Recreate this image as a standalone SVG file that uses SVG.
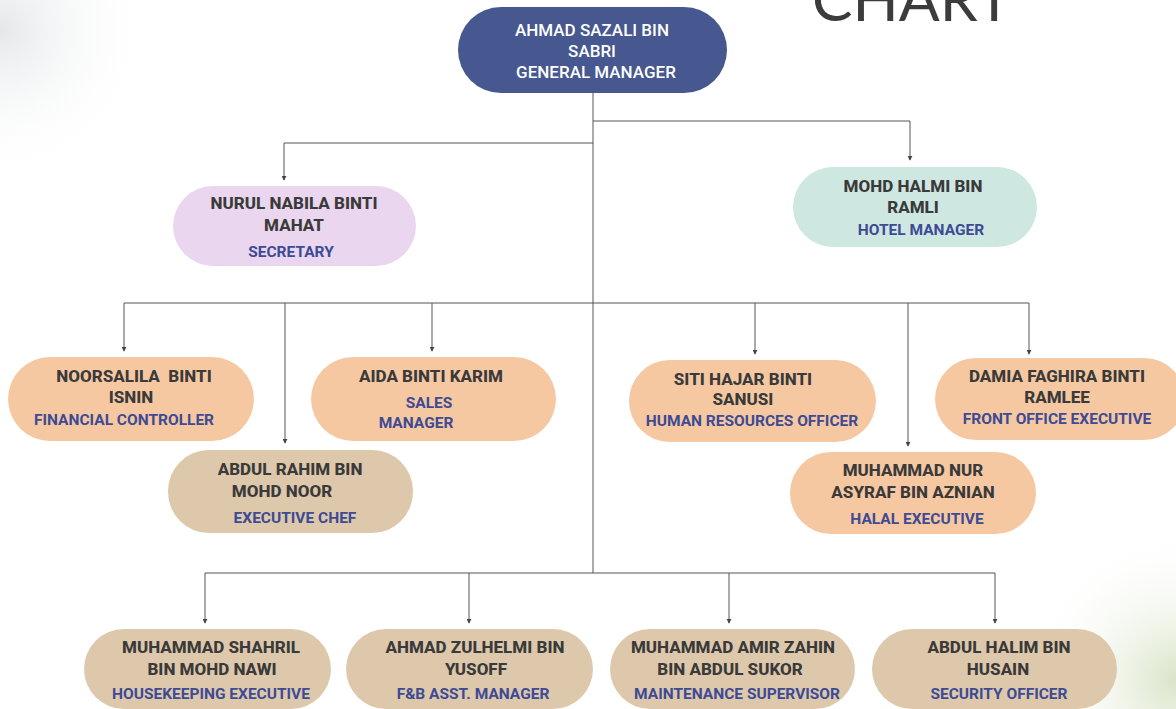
<svg xmlns="http://www.w3.org/2000/svg" width="1176" height="709" viewBox="0 0 1176 709">
<defs>
<radialGradient id="gTL" cx="0" cy="0.1" r="0.5"><stop offset="0" stop-color="#d9dde0" stop-opacity="0.7"/><stop offset="1" stop-color="#ffffff" stop-opacity="0"/></radialGradient>
<radialGradient id="gBR" cx="1" cy="0.9" r="0.5"><stop offset="0" stop-color="#c9d8b0" stop-opacity="0.7"/><stop offset="1" stop-color="#ffffff" stop-opacity="0"/></radialGradient>
<marker id="arr" viewBox="0 0 6 6" refX="5" refY="3" markerWidth="5" markerHeight="5" orient="auto" markerUnits="userSpaceOnUse"><path d="M0,0 L6,3 L0,6 z" fill="#444"/></marker>
<style>
.nm{font-family:Roboto,"Liberation Sans",sans-serif;font-weight:800;font-size:17px;fill:#3a3a3a;text-anchor:middle;white-space:pre}
.rl{font-family:Roboto,"Liberation Sans",sans-serif;font-weight:700;font-size:15.5px;fill:#3d4a94;text-anchor:middle}
.gm{font-family:Roboto,"Liberation Sans",sans-serif;font-weight:500;font-size:17px;fill:#ffffff;text-anchor:middle}
.peach{fill:#f6c8a2}
.tan{fill:#dec8ab}
.ln{fill:none;stroke:#555;stroke-width:1}
.ar{fill:none;stroke:#555;stroke-width:1;marker-end:url(#arr)}
</style>
</defs>
<rect width="1176" height="709" fill="#ffffff"/>
<rect x="0" y="0" width="300" height="300" fill="url(#gTL)"/>
<rect x="876" y="409" width="300" height="300" fill="url(#gBR)"/>
<text x="812" y="21" font-family="Lato,'Open Sans',sans-serif" font-size="60" fill="#3c3c3c" textLength="200" lengthAdjust="spacingAndGlyphs">CHART</text>

<g id="connectors">
<path class="ln" d="M593,93 V573"/>
<path class="ar" d="M593,121 H910 V160"/>
<path class="ar" d="M593,143 H284 V180"/>
<path class="ln" d="M124,303 H1029"/>
<path class="ar" d="M124,303 V351"/>
<path class="ar" d="M285,303 V443"/>
<path class="ar" d="M432,303 V351"/>
<path class="ar" d="M755,303 V354"/>
<path class="ar" d="M908,303 V446"/>
<path class="ar" d="M1029,303 V354"/>
<path class="ln" d="M205,573 H995"/>
<path class="ar" d="M205,573 V623"/>
<path class="ar" d="M469,573 V623"/>
<path class="ar" d="M729,573 V623"/>
<path class="ar" d="M995,573 V623"/>
</g>

<g id="gm">
<rect x="458" y="7" width="269" height="86" rx="43" fill="#46588f"/>
<text class="gm" x="592" y="36">AHMAD SAZALI BIN</text>
<text class="gm" x="592" y="57">SABRI</text>
<text class="gm" x="596" y="78">GENERAL MANAGER</text>
</g>

<g id="secretary">
<rect x="173" y="186" width="243" height="80" rx="40" fill="#ead6ee"/>
<text class="nm" x="294" y="209">NURUL NABILA BINTI</text>
<text class="nm" x="294" y="231">MAHAT</text>
<text class="rl" x="291" y="257">SECRETARY</text>
</g>

<g id="hotel-manager">
<rect x="793" y="167" width="244" height="80" rx="40" fill="#cfe7e1"/>
<text class="nm" x="913" y="192">MOHD HALMI BIN</text>
<text class="nm" x="913" y="213">RAMLI</text>
<text class="rl" x="921" y="235">HOTEL MANAGER</text>
</g>

<g id="financial-controller">
<rect class="peach" x="8" y="357" width="246" height="84" rx="42"/>
<text class="nm" x="134" y="382" xml:space="preserve">NOORSALILA  BINTI</text>
<text class="nm" x="131" y="403">ISNIN</text>
<text class="rl" x="124" y="425">FINANCIAL CONTROLLER</text>
</g>

<g id="sales-manager">
<rect class="peach" x="311" y="357" width="245" height="84" rx="42"/>
<text class="nm" x="431" y="382">AIDA BINTI KARIM</text>
<text class="rl" x="429" y="408">SALES</text>
<text class="rl" x="416" y="428">MANAGER</text>
</g>

<g id="executive-chef">
<rect class="tan" x="168" y="450" width="245" height="83" rx="41"/>
<text class="nm" x="290" y="475">ABDUL RAHIM BIN</text>
<text class="nm" x="282" y="497">MOHD NOOR</text>
<text class="rl" x="295" y="523">EXECUTIVE CHEF</text>
</g>

<g id="hr-officer">
<rect class="peach" x="629" y="360" width="247" height="82" rx="41"/>
<text class="nm" x="743" y="385">SITI HAJAR BINTI</text>
<text class="nm" x="743" y="405">SANUSI</text>
<text class="rl" x="752" y="426">HUMAN RESOURCES OFFICER</text>
</g>

<g id="front-office">
<rect class="peach" x="935" y="358" width="250" height="82" rx="41"/>
<text class="nm" x="1057" y="382">DAMIA FAGHIRA BINTI</text>
<text class="nm" x="1057" y="403">RAMLEE</text>
<text class="rl" x="1057" y="424">FRONT OFFICE EXECUTIVE</text>
</g>

<g id="halal-executive">
<rect class="peach" x="790" y="452" width="246" height="82" rx="41"/>
<text class="nm" x="913" y="476">MUHAMMAD NUR</text>
<text class="nm" x="913" y="498">ASYRAF BIN AZNIAN</text>
<text class="rl" x="917" y="524">HALAL EXECUTIVE</text>
</g>

<g id="housekeeping">
<rect class="tan" x="84" y="629" width="247" height="80" rx="40"/>
<text class="nm" x="211" y="653">MUHAMMAD SHAHRIL</text>
<text class="nm" x="212" y="675">BIN MOHD NAWI</text>
<text class="rl" x="211" y="699">HOUSEKEEPING EXECUTIVE</text>
</g>

<g id="fb-manager">
<rect class="tan" x="346" y="629" width="247" height="80" rx="40"/>
<text class="nm" x="475" y="653">AHMAD ZULHELMI BIN</text>
<text class="nm" x="476" y="675">YUSOFF</text>
<text class="rl" x="473" y="699">F&amp;B ASST. MANAGER</text>
</g>

<g id="maintenance">
<rect class="tan" x="610" y="629" width="245" height="80" rx="40"/>
<text class="nm" x="733" y="653">MUHAMMAD AMIR ZAHIN</text>
<text class="nm" x="730" y="675">BIN ABDUL SUKOR</text>
<text class="rl" x="737" y="699">MAINTENANCE SUPERVISOR</text>
</g>

<g id="security">
<rect class="tan" x="872" y="629" width="245" height="80" rx="40"/>
<text class="nm" x="999" y="653">ABDUL HALIM BIN</text>
<text class="nm" x="998" y="675">HUSAIN</text>
<text class="rl" x="999" y="699">SECURITY OFFICER</text>
</g>
</svg>
